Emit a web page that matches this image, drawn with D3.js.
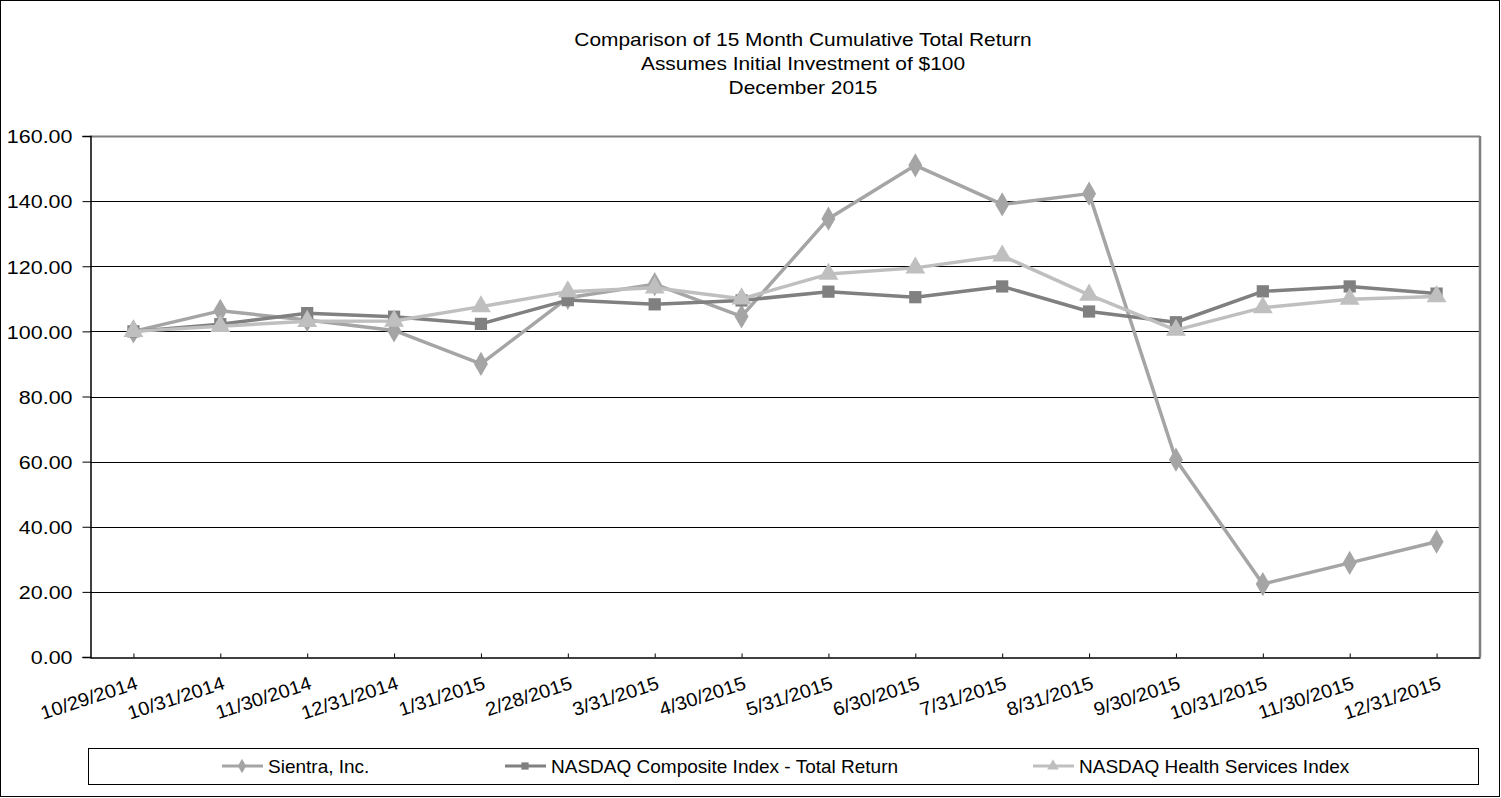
<!DOCTYPE html>
<html><head><meta charset="utf-8">
<script src="https://cdn.jsdelivr.net/npm/d3@7"></script>
<style>body{margin:0;background:#fff}svg{display:block}text{font-family:"Liberation Sans",Arial,sans-serif;fill:#000}</style>
</head><body><svg id="c" width="1501" height="798"></svg>
<script>
const categories = ["10/29/2014","10/31/2014","11/30/2014","12/31/2014","1/31/2015","2/28/2015","3/31/2015","4/30/2015","5/31/2015","6/30/2015","7/31/2015","8/31/2015","9/30/2015","10/31/2015","11/30/2015","12/31/2015"];
const sientra = [100.00,106.3,103.5,100.3,90.0,110.3,114.5,104.6,134.6,151.0,139.0,142.3,60.6,22.4,28.9,35.4];
const nasdaqComposite = [100.00,102.2,105.6,104.5,102.3,109.6,108.3,109.5,112.2,110.5,113.8,106.1,102.8,112.3,113.8,111.6];
const nasdaqHealth = [100.00,101.6,103.1,103.2,107.6,112.2,113.4,110.0,117.6,119.5,123.2,111.2,100.4,107.3,109.9,110.7];
const yTicks = [0,20,40,60,80,100,120,140,160];
const titleLines = ["Comparison of 15 Month Cumulative Total Return","Assumes Initial Investment of $100","December 2015"];
const seriesNames = ["Sientra, Inc.","NASDAQ Composite Index - Total Return","NASDAQ Health Services Index"];

const svg = d3.select("#c");
const L=90,R=1480,T=136,B=657;
svg.append("rect").attr("x",0.5).attr("y",0.5).attr("width",1499).attr("height",796).attr("fill","#fff").attr("stroke","#000");

const x = d3.scalePoint().domain(categories).range([L,R]).padding(0.5);
const y = d3.scaleLinear().domain([0,160]).range([B,T]);

function stretch(sel, k){
  sel.each(function(){ const w=this.getComputedTextLength(); d3.select(this).attr("textLength",w*k).attr("lengthAdjust","spacingAndGlyphs"); });
}

const tt = svg.selectAll(".title").data(titleLines).join("text")
  .attr("x",803).attr("y",(d,i)=>46+i*24).attr("text-anchor","middle").attr("font-size",19).text(d=>d);
stretch(tt,1.1);

// gridlines
svg.append("g").selectAll("line").data(yTicks.filter(v=>v>0)).join("line")
  .attr("x1",L).attr("x2",R).attr("y1",d=>Math.round(y(d))+0.5).attr("y2",d=>Math.round(y(d))+0.5)
  .attr("stroke",d=>d===160?"#808080":"#000").attr("stroke-width",d=>d===160?2:1);
svg.append("line").attr("x1",R).attr("x2",R).attr("y1",T).attr("y2",B).attr("stroke","#808080").attr("stroke-width",2.5);

// y axis
const ya = svg.append("g").attr("transform",`translate(${L+0.5},0)`)
  .call(d3.axisLeft(y).tickValues(yTicks).tickFormat(d3.format(".2f")).tickSize(8).tickPadding(10));
ya.select(".domain").attr("stroke","#000").attr("stroke-width",1.5);
ya.selectAll(".tick line").attr("stroke","#000");
ya.selectAll("text").attr("font-size",19).attr("font-family","Liberation Sans, Arial, sans-serif").attr("fill","#000").attr("dy","0.36em");
stretch(ya.selectAll("text"),1.13);

// x axis
const xa = svg.append("g").attr("transform",`translate(0,${B+0.5})`)
  .call(d3.axisBottom(x).tickSize(-4).tickSizeOuter(0).tickPadding(0));
xa.select(".domain").attr("stroke","#000").attr("stroke-width",1.5);
xa.selectAll(".tick line").attr("stroke","#000");
xa.selectAll("text").attr("font-size",19).attr("font-family","Liberation Sans, Arial, sans-serif").attr("fill","#000")
  .attr("text-anchor","end").attr("dy",0).attr("transform","translate(5,31) rotate(-18)");
stretch(xa.selectAll("text"),1.06);

const series = [
  {name:seriesNames[0], vals:sientra, color:"#a5a5a5", shape:d3.symbolDiamond, size:170},
  {name:seriesNames[1], vals:nasdaqComposite, color:"#808080", shape:d3.symbolSquare, size:150},
  {name:seriesNames[2], vals:nasdaqHealth, color:"#bfbfbf", shape:d3.symbolTriangle, size:170}
];
const line = d3.line().x((d,i)=>x(categories[i])).y(d=>y(d));
series.forEach(s=>{
  svg.append("path").datum(s.vals).attr("d",line).attr("fill","none").attr("stroke",s.color).attr("stroke-width",3.5).attr("stroke-linejoin","round");
  svg.append("g").selectAll("path").data(s.vals).join("path")
    .attr("d",d3.symbol().type(s.shape).size(s.size))
    .attr("transform",(d,i)=>`translate(${x(categories[i])},${y(d)})`).attr("fill",s.color);
});

// legend
svg.append("rect").attr("x",88.5).attr("y",748.5).attr("width",1390).attr("height",36).attr("fill","none").attr("stroke","#000");
const legX=[222,505,1033];
series.forEach((s,i)=>{
  const g=svg.append("g").attr("transform",`translate(${legX[i]},766)`);
  g.append("line").attr("x1",0).attr("x2",41).attr("stroke",s.color).attr("stroke-width",3);
  g.append("path").attr("d",d3.symbol().type(s.shape).size(s.size*0.35)).attr("transform","translate(20,0)").attr("fill",s.color);
  g.append("text").attr("x",46).attr("y",6.5).attr("font-size",19).text(s.name);
});
</script></body></html>
